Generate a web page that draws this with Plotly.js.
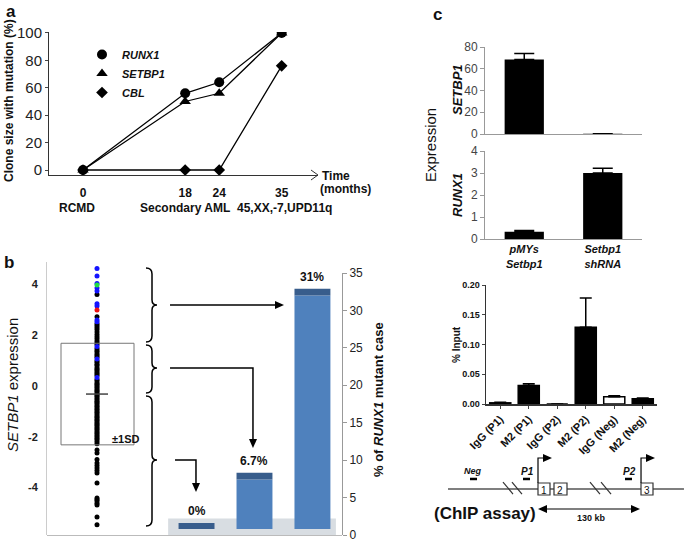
<!DOCTYPE html>
<html>
<head>
<meta charset="utf-8">
<script src="https://cdn.plot.ly/plotly-3.0.1.min.js"></script>
<style>
  html, body { margin: 0; padding: 0; background: #fff; }
  #chart { width: 685px; height: 543px; }
</style>
</head>
<body>
<div id="chart"></div>
<script>
// ---- panel a: clone size over time ----
const months = [0, 18, 24, 35];
const runx1Clone = [0, 56, 64, 100];
const setbp1Clone = [0, 50, 56, 100];
const cblClone = [0, 0, 0, 76];
const stageLabels = ["RCMD", "Secondary AML", "45,XX,-7,UPD11q"];

// ---- panel b: SETBP1 expression strip + RUNX1 mutant bars ----
const blueExpr = [4.62, 4.33, 4.03, 3.86, 3.74, 3.24, 3.15, 2.6, 2.53, 1.55, 1.06, 0.33];
const greenExpr = [3.97];
const redExpr = [2.99];
const blackExpr = [3.6, 2.72, 2.45, 2.38, 2.3, 2.22, 2.12, 2.03, 1.94, 1.86, 1.77, 1.7, 1.63,
  1.47, 1.4, 1.34, 1.26, 1.2, 1.13, 0.99, 0.93, 0.85, 0.8, 0.72, 0.66, 0.6, 0.53, 0.47, 0.41,
  0.25, 0.19, 0.12, 0.07, 0.01, -0.05, -0.12, -0.18, -0.23, -0.3, -0.36, -0.41, -0.48, -0.53,
  -0.6, -0.65, -0.71, -0.78, -0.83, -0.9, -0.95, -1.02, -1.07, -1.13, -1.2, -1.25, -1.32,
  -1.37, -1.44, -1.5, -1.55, -1.62, -1.68, -1.74, -1.8, -1.86, -1.93, -1.99, -2.06, -2.12,
  -2.2, -2.28, -2.52, -2.64, -2.9, -3.03, -3.13, -3.23, -3.33, -3.43, -3.82, -4.41, -4.47,
  -4.53, -4.62, -4.69, -5.16, -5.47];
const exprMean = -0.32;
const exprSD = 2.0;
const groups = ["below mean", "mean to +1SD", "above +1SD"];
const groupBarTop = [1.6, 8.3, 32.9];
const mutantPct = ["0%", "6.7%", "31%"];
const barFloor = 0.8;
const capDepth = 0.9;

// ---- panel c ----
const vectors = ["pMYs<br>Setbp1", "Setbp1<br>shRNA"];
const setbp1Expr = [68.5, 0.3];
const setbp1Err = [5.5, 0];
const runx1Expr = [0.33, 3.0];
const runx1Err = [0.06, 0.22];
const chipSamples = ["IgG (P1)", "M2 (P1)", "IgG (P2)", "M2 (P2)", "IgG (Neg)", "M2 (Neg)"];
const chipInput = [0.002, 0.031, 0, 0.129, 0.012, 0.009];
const chipErr = [0.001, 0.003, 0, 0.049, 0.002, 0.001];

const W = 685, H = 543;
const FONT = "Liberation Sans, Arial, sans-serif";
const px = x => x / W;
const py = y => 1 - y / H;
const xd = (a, b) => [px(a), px(b)];
const yd = (bottom, top) => [py(bottom), py(top)];
const bold = arr => arr.map(v => "<b>" + v + "</b>");

function pathOf(pts, close) {
  return pts.map((p, i) => (i ? "L" : "M") + px(p[0]).toFixed(4) + "," + py(p[1]).toFixed(4)).join(" ") + (close ? " Z" : "");
}
function line(pts, color, width) {
  return { type: "path", xref: "paper", yref: "paper", path: pathOf(pts), line: { color: color || "#000", width: width || 1.5 } };
}
function head(x, y, dir) {
  const pts = dir === "right" ? [[x, y], [x - 9, y - 4], [x - 9, y + 4]]
    : dir === "left" ? [[x, y], [x + 9, y - 4], [x + 9, y + 4]]
    : [[x, y], [x - 4, y - 9], [x + 4, y - 9]];
  return { type: "path", xref: "paper", yref: "paper", path: pathOf(pts, true), fillcolor: "#000", line: { width: 0 } };
}
function brace(x, y0, y1, ym) {
  const P = (a, b) => px(a).toFixed(4) + "," + py(b).toFixed(4);
  return {
    type: "path", xref: "paper", yref: "paper", line: { color: "#000", width: 1.5 },
    path: `M${P(x - 6, y0)} Q${P(x, y0)} ${P(x, y0 + 6)} L${P(x, ym - 5)} Q${P(x, ym)} ${P(x + 5, ym)} ` +
      `Q${P(x, ym)} ${P(x, ym + 5)} L${P(x, y1 - 6)} Q${P(x, y1)} ${P(x - 6, y1)}`
  };
}
function rect(x0, y0, x1, y1) {
  return { type: "rect", xref: "paper", yref: "paper", x0: px(x0), x1: px(x1), y0: py(y0), y1: py(y1),
    fillcolor: "#fff", line: { color: "#333", width: 1.2 } };
}
function label(x, y, text, size, extra) {
  return Object.assign({ xref: "paper", yref: "paper", x: px(x), y: py(y), text: text, showarrow: false,
    font: { family: FONT, size: size, color: "#111" }, xanchor: "center", yanchor: "middle" }, extra || {});
}

const traces = [];
// panel a lines
[[runx1Clone, "circle", 10], [setbp1Clone, "triangle-up", 10], [cblClone, "diamond", 9]].forEach(([ys, sym, sz]) => {
  traces.push({ type: "scatter", mode: "lines+markers", x: months, y: ys, xaxis: "x", yaxis: "y",
    line: { color: "#000", width: 1.3 }, marker: { symbol: sym, size: sz, color: "#000" }, showlegend: false });
});
[["RUNX1", "circle", 10], ["SETBP1", "triangle-up", 10], ["CBL", "diamond", 9]].forEach(([nm, sym, sz]) => {
  traces.push({ type: "scatter", mode: "markers", x: [null], y: [null], name: "<b><i>" + nm + "</i></b>",
    xaxis: "x", yaxis: "y", marker: { symbol: sym, size: sz, color: "#000" } });
});

// panel b strip
[[blackExpr, "#000"], [blueExpr, "#1414ff"], [greenExpr, "#22dd44"], [redExpr, "#ee1111"]].forEach(([vals, col]) => {
  traces.push({ type: "scatter", mode: "markers", x: vals.map(() => "AML"), y: vals, xaxis: "x3", yaxis: "y2",
    marker: { size: 5, color: col }, showlegend: false });
});
// panel b bars (front face + darker top face)
traces.push({ type: "bar", x: groups, y: groupBarTop.map(t => Math.max(t - capDepth - barFloor, 0)), base: barFloor,
  xaxis: "x2", yaxis: "y3", width: 0.62, marker: { color: "#4f81bd", line: { width: 0 } }, showlegend: false });
traces.push({ type: "bar", x: groups, y: groupBarTop.map(t => t - Math.max(t - capDepth, barFloor)),
  base: groupBarTop.map(t => Math.max(t - capDepth, barFloor)),
  xaxis: "x2", yaxis: "y3", width: 0.62, marker: { color: "#385d8c", line: { width: 0 } }, showlegend: false });

// panel c
const errUp = arr => ({ type: "data", symmetric: false, array: arr, arrayminus: arr.map(() => 0), color: "#000", thickness: 1.5, width: 10 });
traces.push({ type: "bar", x: vectors, y: setbp1Expr, xaxis: "x4", yaxis: "y4", width: 0.5,
  marker: { color: "#000" }, error_y: errUp(setbp1Err), showlegend: false });
traces.push({ type: "bar", x: vectors, y: runx1Expr, xaxis: "x5", yaxis: "y5", width: 0.5,
  marker: { color: "#000" }, error_y: errUp(runx1Err), showlegend: false });
traces.push({ type: "bar", x: chipSamples, y: chipInput, xaxis: "x6", yaxis: "y6", width: 0.74,
  marker: { color: chipSamples.map(s => s.startsWith("IgG") ? "#fff" : "#000"), line: { color: "#000", width: 1.5 } },
  error_y: Object.assign(errUp(chipErr), { width: 6 }), showlegend: false });

const base = { showgrid: false, zeroline: false, showline: true, linecolor: "#333", linewidth: 1,
  tickfont: { family: FONT, size: 12, color: "#222" }, fixedrange: true };
const ax = o => Object.assign({}, base, o);

const layout = {
  width: W, height: H, margin: { l: 0, r: 0, t: 0, b: 0 },
  paper_bgcolor: "#fff", plot_bgcolor: "rgba(0,0,0,0)",
  font: { family: FONT }, barmode: "overlay",
  showlegend: true,
  legend: { x: px(82), y: py(40), xanchor: "left", yanchor: "top", bgcolor: "rgba(0,0,0,0)",
    font: { family: FONT, size: 11, color: "#111" }, tracegroupgap: 0, itemwidth: 30 },
  // a
  xaxis: ax({ domain: xd(49, 318), range: [-5.99, 41.4], anchor: "y", tickvals: months, ticktext: bold(months), ticks: "",
    tickfont: { family: FONT, size: 12, color: "#111" }, ticklabelstandoff: 7 }),
  yaxis: ax({ domain: yd(175, 32), range: [-3.65, 100.7], anchor: "x", dtick: 20, ticks: "outside", ticklen: 3,
    tickfont: { family: FONT, size: 15, color: "#222" } }),
  // b
  xaxis2: ax({ domain: xd(47, 342), type: "category", range: [-2.58, 2.51], anchor: "y3", showticklabels: false,
    ticks: "", linecolor: "#bbb" }),
  yaxis3: ax({ domain: yd(535, 273), range: [0, 35], dtick: 5, anchor: "free", position: px(342), side: "right",
    ticks: "outside", ticklen: 4, linecolor: "#999", tickcolor: "#999" }),
  xaxis3: ax({ domain: xd(47, 147), type: "category", range: [-0.5, 0.5], anchor: "y2", visible: false }),
  yaxis2: ax({ domain: yd(535, 262), range: [-5.87, 4.88], anchor: "x3", tickvals: [-4, -2, 0, 2, 4],
    ticktext: bold([-4, -2, 0, 2, 4]), ticks: "", linecolor: "#ccc",
    tickfont: { family: FONT, size: 11, color: "#222" }, ticklabelstandoff: 6 }),
  // c expression
  xaxis4: ax({ domain: xd(485, 642), type: "category", anchor: "y4", showticklabels: false, ticks: "", linecolor: "#999" }),
  yaxis4: ax({ domain: yd(134, 47), range: [0, 80], dtick: 20, anchor: "x4", ticks: "outside", ticklen: 4,
    linecolor: "#999", tickcolor: "#999", tickfont: { family: FONT, size: 12, color: "#444" } }),
  xaxis5: ax({ domain: xd(485, 642), type: "category", anchor: "y5", ticks: "", linecolor: "#999",
    tickvals: vectors, ticktext: vectors.map(v => "<b><i>" + v + "</i></b>"),
    tickfont: { family: FONT, size: 11, color: "#111" } }),
  yaxis5: ax({ domain: yd(239, 151), range: [0, 4], dtick: 1, anchor: "x5", ticks: "outside", ticklen: 4,
    linecolor: "#999", tickcolor: "#999", tickfont: { family: FONT, size: 12, color: "#444" } }),
  // c ChIP
  xaxis6: ax({ domain: xd(486, 657), type: "category", anchor: "y6", ticks: "outside", ticklen: 3, tickangle: -45,
    tickvals: chipSamples, ticktext: bold(chipSamples),
    linewidth: 1.5, tickfont: { family: FONT, size: 11, color: "#111" } }),
  yaxis6: ax({ domain: yd(404, 285), range: [0, 0.2], anchor: "x6", tickvals: [0, 0.05, 0.1, 0.15, 0.2],
    ticktext: bold(["0.00", "0.05", "0.10", "0.15", "0.20"]),
    ticks: "outside", ticklen: 3, linewidth: 1.5, tickfont: { family: FONT, size: 9, color: "#111" } }),
  shapes: [
    // b: floor band, SD box, mean mark
    { type: "rect", xref: "x2", yref: "y3", x0: -0.49, x1: 2.405, y0: 0, y1: 2.2, fillcolor: "#d8dde2",
      line: { width: 0 }, layer: "below" },
    { type: "rect", xref: "x3", yref: "y2", x0: -0.36, x1: 0.37, y0: exprMean - exprSD, y1: exprMean + exprSD,
      line: { color: "#777", width: 1 } },
    { type: "line", xref: "x3", yref: "y2", x0: -0.11, x1: 0.11, y0: exprMean, y1: exprMean,
      line: { color: "#444", width: 1.5 } },
    brace(152, 268, 342, 305), brace(152, 345, 393, 368), brace(152, 396, 526, 460),
    line([[170, 305], [275, 305]]), head(284, 305, "right"),
    line([[170, 368], [253, 368], [253, 440]]), head(253, 448, "down"),
    line([[175, 460], [196, 460], [196, 484]]), head(196, 492, "down"),
    // a: x axis arrow
    { type: "path", xref: "paper", yref: "paper", path: pathOf([[311, 170], [318, 175], [311, 180]]),
      line: { color: "#333", width: 1 } },
    // c: gene diagram
    line([[448, 489], [684, 489]], "#555", 1.5),
    line([[503, 482], [513, 494]], "#333", 1.2), line([[512, 482], [522, 494]], "#333", 1.2),
    line([[590, 482], [600, 494]], "#333", 1.2), line([[601, 482], [611, 494]], "#333", 1.2),
    rect(538, 483, 550, 495), rect(554, 483, 567, 495), rect(641, 483, 653, 495),
    line([[538, 483], [538, 458], [546, 458]], "#000", 1.2), head(552, 458, "right"),
    line([[641, 483], [641, 458], [649, 458]], "#000", 1.2), head(655, 458, "right"),
    line([[470, 479], [477, 479]], "#000", 2.5), line([[523, 479], [530, 479]], "#000", 2.5),
    line([[625, 479], [632, 479]], "#000", 2.5),
    line([[545, 509], [632, 509]], "#000", 1.2), head(538, 509, "left"), head(640, 509, "right")
  ],
  annotations: [
    label(11, 12, "<b>a</b>", 17), label(9, 262, "<b>b</b>", 17), label(437, 14, "<b>c</b>", 17),
    // a
    label(9, 101, "<b>Clone size with mutation (%)</b>", 12, { textangle: -90 }),
    label(320, 176, "<b>Time</b>", 12, { xanchor: "left" }),
    label(318, 189, "<b>(months)</b>", 12, { xanchor: "left" }),
    label(77, 208, "<b>" + stageLabels[0] + "</b>", 12),
    label(185, 208, "<b>" + stageLabels[1] + "</b>", 12),
    label(284, 208, "<b>" + stageLabels[2] + "</b>", 12),
    // b
    label(12, 385, "<i>SETBP1</i> expression", 15, { textangle: -90 }),
    label(378, 400, "<b>% of <i>RUNX1</i> mutant case</b>", 13, { textangle: -90 }),
    label(126, 439, "<b>±1SD</b>", 11),
    ...groups.map((g, i) => ({ xref: "x2", yref: "y3", x: g, y: groupBarTop[i], text: "<b>" + mutantPct[i] + "</b>",
      showarrow: false, yanchor: "bottom", yshift: 3, font: { family: FONT, size: 12, color: "#111" } })),
    // c
    label(430, 145, "Expression", 15, { textangle: -90 }),
    label(457, 90, "<b><i>SETBP1</i></b>", 13, { textangle: -90 }),
    label(457, 195, "<b><i>RUNX1</i></b>", 13, { textangle: -90 }),
    label(456, 345, "<b>% Input</b>", 10, { textangle: -90 }),
    label(473, 471, "<b><i>Neg</i></b>", 9), label(527, 471, "<b><i>P1</i></b>", 10),
    label(629, 471, "<b><i>P2</i></b>", 10),
    label(544, 490, "1", 10), label(560, 490, "2", 10), label(647, 490, "3", 10),
    label(485, 513, "<b>(ChIP assay)</b>", 17),
    label(591, 518, "<b>130 kb</b>", 9)
  ]
};

Plotly.newPlot("chart", traces, layout, { displayModeBar: false, staticPlot: true });
</script>
</body>
</html>
